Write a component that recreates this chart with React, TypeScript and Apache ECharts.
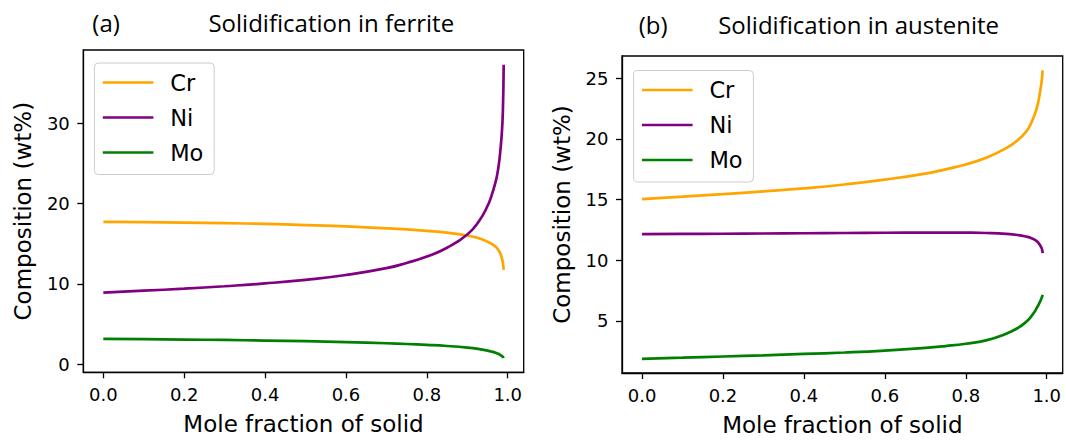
import React, { useEffect, useRef } from "react";
import * as echarts from "echarts";

// Mole fraction of solid (x values)
const fs = [0, 0.1, 0.2, 0.3, 0.4, 0.5, 0.6, 0.7, 0.75, 0.8, 0.85, 0.9, 0.93, 0.95, 0.96, 0.97, 0.975, 0.98, 0.985, 0.988, 0.99];

// (a) Solidification in ferrite
const ferriteCr = [17.72, 17.68, 17.63, 17.56, 17.47, 17.33, 17.15, 16.92, 16.78, 16.6, 16.38, 16.02, 15.65, 15.25, 14.98, 14.62, 14.35, 13.95, 13.3, 12.6, 11.75];
const ferriteNi = [8.9, 9.14, 9.4, 9.7, 10.05, 10.5, 11.1, 11.95, 12.6, 13.4, 14.5, 16.15, 17.9, 19.7, 21.0, 22.7, 23.9, 25.7, 28.5, 31.5, 37.3];
const ferriteMo = [3.13, 3.1, 3.05, 3.0, 2.93, 2.85, 2.74, 2.59, 2.5, 2.39, 2.25, 2.05, 1.86, 1.67, 1.55, 1.4, 1.3, 1.18, 1.02, 0.9, 0.75];

// (b) Solidification in austenite
const austCr = [15.05, 15.25, 15.45, 15.68, 15.93, 16.25, 16.65, 17.15, 17.5, 17.9, 18.45, 19.25, 19.95, 20.65, 21.2, 22.0, 22.5, 23.2, 24.2, 24.9, 25.65];
const austNi = [12.15, 12.17, 12.19, 12.21, 12.23, 12.25, 12.27, 12.28, 12.29, 12.28, 12.25, 12.18, 12.08, 11.95, 11.85, 11.7, 11.58, 11.42, 11.15, 10.95, 10.6];
const austMo = [1.88, 1.97, 2.07, 2.17, 2.28, 2.4, 2.56, 2.78, 2.93, 3.12, 3.4, 3.95, 4.45, 4.95, 5.3, 5.75, 6.05, 6.35, 6.7, 6.95, 7.15];

const elements = ["Cr", "Ni", "Mo"];
const colors = ["#ffa500", "#800080", "#008000"];
const xTicks = [0, 0.2, 0.4, 0.6, 0.8, 1.0];
const yTicksA = [0, 10, 20, 30];
const yTicksB = [5, 10, 15, 20, 25];
const panelLabels = ["(a)", "(b)"];
const panelTitles = ["Solidification in ferrite", "Solidification in austenite"];
const xName = "Mole fraction of solid";
const yName = "Composition (wt%)";

const FONT = "'DejaVu Sans', sans-serif";
const TITLE_FONT = "'Open Sans', 'Noto Sans', sans-serif";

function pairs(ys: number[]) {
  return fs.map((x, i) => [x, ys[i]]);
}

function xAxisCfg(gridIndex: number) {
  return {
    type: "value",
    gridIndex,
    min: -0.0495,
    max: 1.0395,
    name: xName,
    nameLocation: "middle",
    nameGap: 51.5,
    nameTextStyle: { fontFamily: FONT, fontSize: 23, color: "#000", verticalAlign: "middle" },
    axisLine: { show: true, onZero: false, lineStyle: { color: "#000", width: 1.3 } },
    axisTick: { show: true, inside: false, length: 6, customValues: xTicks, lineStyle: { color: "#000", width: 1.3 } },
    axisLabel: {
      customValues: xTicks,
      margin: 13,
      fontFamily: FONT,
      fontSize: 18,
      color: "#000",
      formatter: (v: number) => v.toFixed(1),
    },
    splitLine: { show: false },
  };
}

function yAxisCfg(gridIndex: number, min: number, max: number, ticks: number[]) {
  return {
    type: "value",
    gridIndex,
    min,
    max,
    name: yName,
    nameLocation: "middle",
    nameGap: 60.5,
    nameRotate: 90,
    nameTextStyle: { fontFamily: FONT, fontSize: 23, color: "#000", verticalAlign: "middle" },
    axisLine: { show: true, onZero: false, lineStyle: { color: "#000", width: 1.3 } },
    axisTick: { show: true, inside: false, length: 6, customValues: ticks, lineStyle: { color: "#000", width: 1.3 } },
    axisLabel: {
      customValues: ticks,
      margin: 13.5,
      fontFamily: FONT,
      fontSize: 18,
      color: "#000",
      formatter: (v: number) => String(Math.round(v)),
    },
    splitLine: { show: false },
  };
}

function legendCfg(left: number, top: number) {
  return {
    left,
    top,
    orient: "vertical",
    data: elements,
    icon: "rect",
    itemWidth: 50.6,
    itemHeight: 2.7,
    itemGap: 0,
    selectedMode: false,
    padding: [2, 10.8, 4.5, 8.4],
    backgroundColor: "rgba(255,255,255,0.8)",
    borderColor: "#cccccc",
    borderWidth: 1,
    borderRadius: 4,
    textStyle: { fontFamily: FONT, fontSize: 22.5, color: "#000", lineHeight: 35, padding: [0, 0, 0, 11.8] },
  };
}

export default function App() {
  const ref = useRef<HTMLDivElement>(null);

  useEffect(() => {
    if (!ref.current) return;
    const chart = echarts.init(ref.current, null, { renderer: "svg" });
    const ferrite = [ferriteCr, ferriteNi, ferriteMo];
    const aust = [austCr, austNi, austMo];
    const series: any[] = [];
    [ferrite, aust].forEach((set, gi) => {
      set.forEach((ys, k) => {
        series.push({
          type: "line",
          name: elements[k],
          xAxisIndex: gi,
          yAxisIndex: gi,
          data: pairs(ys),
          showSymbol: false,
          smooth: 0.5,
          color: colors[k],
          lineStyle: { color: colors[k], width: 2.7 },
          emphasis: { disabled: true },
          z: 3,
        });
      });
    });

    chart.setOption({
      animation: false,
      backgroundColor: "#fff",
      grid: [
        { left: 83.3, top: 50, width: 440.4, height: 322.3, show: true, borderColor: "#000", borderWidth: 1.3, backgroundColor: "transparent", containLabel: false },
        { left: 622, top: 56, width: 440.7, height: 323, show: true, borderColor: "#000", borderWidth: 1.3, backgroundColor: "transparent", containLabel: false },
      ],
      xAxis: [xAxisCfg(0), xAxisCfg(1)],
      yAxis: [yAxisCfg(0, -1.03, 39.15, yTicksA), yAxisCfg(1, 0.71, 26.84, yTicksB)],
      legend: [legendCfg(94.4, 63), legendCfg(633.6, 70.5)],
      graphic: [
        { type: "text", x: 92.3, y: 22.5, style: { text: panelLabels[0], fontFamily: TITLE_FONT, fontSize: 24, fill: "#000", align: "left", verticalAlign: "middle" } },
        { type: "text", x: 331.3, y: 22.5, style: { text: panelTitles[0], fontFamily: TITLE_FONT, fontSize: 24, fill: "#000", align: "center", verticalAlign: "middle" } },
        { type: "text", x: 638.7, y: 24, style: { text: panelLabels[1], fontFamily: TITLE_FONT, fontSize: 24, fill: "#000", align: "left", verticalAlign: "middle" } },
        { type: "text", x: 858.6, y: 24, style: { text: panelTitles[1], fontFamily: TITLE_FONT, fontSize: 24, fill: "#000", align: "center", verticalAlign: "middle" } },
      ],
      tooltip: { show: false },
      series,
    });
    return () => chart.dispose();
  }, []);

  return <div ref={ref} style={{ position: "absolute", left: 0, top: 0, width: 1066, height: 441 }} />;
}
